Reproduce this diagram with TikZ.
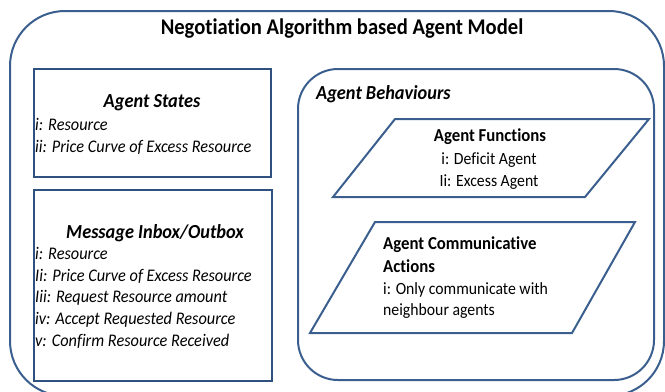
\documentclass[tikz,border=0pt]{standalone}
\usepackage{fontspec}
\setmainfont{Carlito}[FakeStretch=0.92,RawFeature=-liga]
\definecolor{frame}{HTML}{3A5F8E}
\definecolor{frameD}{HTML}{2F5180}
\begin{document}
\begin{tikzpicture}[x=1bp,y=-1bp,
  outerbox/.style={draw=frame,line width=2bp,rounded corners=55bp},
  behbox/.style={draw=frame,line width=2bp,rounded corners=40bp},
  statebox/.style={draw=frameD,line width=2.4bp},
  para/.style={draw=frame,line width=2bp,line join=miter},
  maintitle/.style={font=\fontsize{22.5}{26}\selectfont\bfseries,anchor=base,inner sep=0},
  ltitle/.style={font=\fontsize{20}{23}\selectfont\bfseries\itshape,anchor=base,inner sep=0},
  lline/.style={font=\fontsize{17.8}{20}\selectfont\itshape,anchor=base west,inner sep=0},
  rtitle/.style={font=\fontsize{18.3}{21}\selectfont\bfseries,inner sep=0},
  rline/.style={font=\fontsize{17.2}{20}\selectfont,inner sep=0},
]
\useasboundingbox (0,0) rectangle (665,391);
% outer frame
\draw[outerbox] (10,11) rectangle (664,396);
\node[maintitle] (title) at (342,34) {Negotiation Algorithm based Agent Model};
% Agent States
\draw[statebox] (34,69) rectangle (271,177);
\node[ltitle] (st) at (152,107) {Agent States};
\node[lline] (st1) at (35,130) {i: Resource};
\node[lline] (st2) at (35,152) {ii: Price Curve of Excess Resource};
% Message Inbox/Outbox
\draw[statebox] (34,190) rectangle (272,381);
\node[ltitle] (mb) at (155,238) {Message Inbox/Outbox};
\node[lline] (mb1) at (35,259) {i: Resource};
\node[lline] (mb2) at (35,281) {Ii: Price Curve of Excess Resource};
\node[lline] (mb3) at (35,302) {Iii: Request Resource amount};
\node[lline] (mb4) at (35,324) {iv: Accept Requested Resource};
\node[lline] (mb5) at (35,346) {v: Confirm Resource Received};
% Agent Behaviours
\draw[behbox] (298,69) rectangle (654,380);
\node[ltitle,anchor=base west] (bh) at (316,99) {Agent Behaviours};
% Agent Functions parallelogram
\draw[para] (395,119) -- (649,119) -- (585,197) -- (333,197) -- cycle;
\node[rtitle,anchor=base] (af) at (490,141) {Agent Functions};
\node[rline,anchor=base] (af1) at (489,164) {i: Deficit Agent};
\node[rline,anchor=base] (af2) at (489,186) {Ii: Excess Agent};
% Agent Communicative Actions parallelogram
\draw[para] (375,222) -- (635,222) -- (572,333) -- (310,333) -- cycle;
\node[rtitle,anchor=base west] (ac1) at (383,249) {Agent Communicative};
\node[rtitle,anchor=base west] (ac2) at (383,272) {Actions};
\node[rline,anchor=base west] (ac3) at (383,294) {i: Only communicate with};
\node[rline,anchor=base west] (ac4) at (383,315) {neighbour agents};
\end{tikzpicture}
\end{document}
